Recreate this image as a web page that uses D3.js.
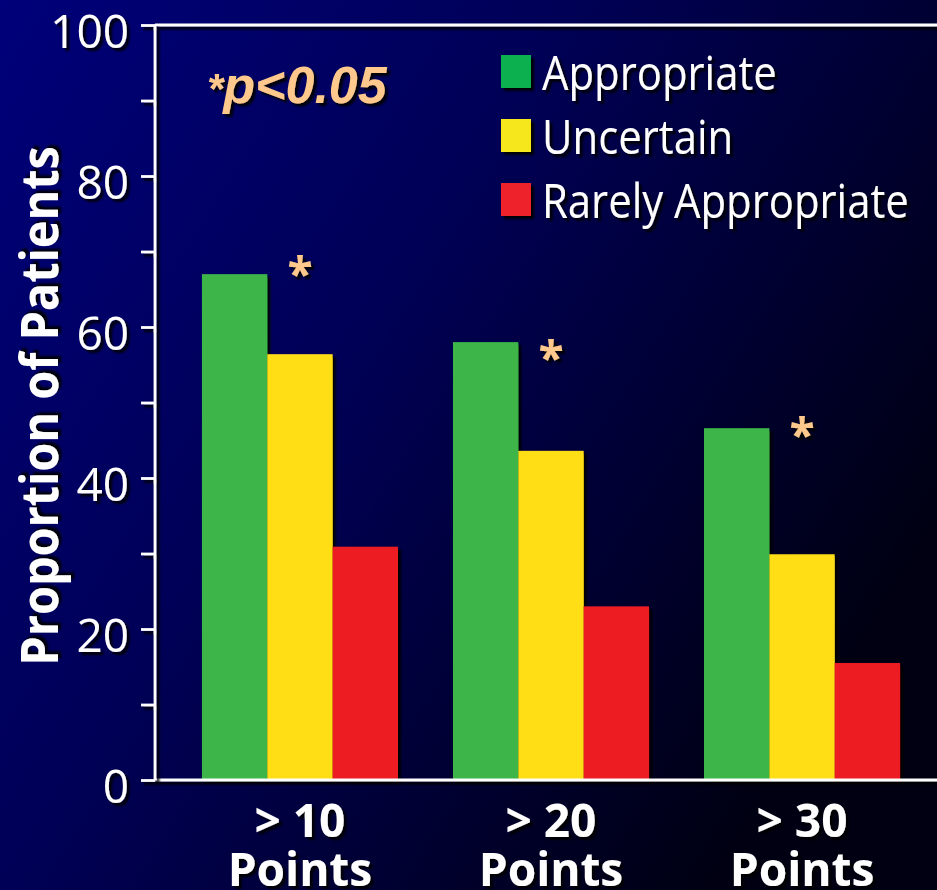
<!DOCTYPE html>
<html>
<head>
<meta charset="utf-8">
<script src="https://cdn.jsdelivr.net/npm/d3@7"></script>
<style>
  html, body { margin: 0; padding: 0; background: #000040; }
  svg { display: block; }
  text { font-family: "Open Sans", "DejaVu Sans", sans-serif; fill: #ffffff; }
</style>
</head>
<body>
<svg id="chart" width="937" height="890"></svg>
<script>
// Threshold groups on the x axis
const groups = ["> 10|Points", "> 20|Points", "> 30|Points"];
// Series names (legend order)
const series = ["Appropriate", "Uncertain", "Rarely Appropriate"];
// Proportion of patients (%) per group, one array per series
const appropriate = [67.0, 58.0, 46.6];
const uncertain = [56.4, 43.6, 29.9];
const rarelyAppropriate = [30.9, 23.0, 15.5];
// Level (%) at which each significance asterisk sits
const sigMarkLevel = [68.3, 57.2, 47.0];
// Axis ticks
const majorTicks = [0, 20, 40, 60, 80, 100];
const minorTicks = [10, 30, 50, 70, 90];
const yTitle = "Proportion of Patients";
const noteStar = "*";
const noteText = "p<0.05";

const barColors = ["#3cb54a", "#ffde17", "#ed1c24"];
const keyColors = ["#0bb04f", "#f6e71a", "#ee2229"];

const W = 937, H = 890;
const svg = d3.select("#chart");
const defs = svg.append("defs");

const bg = defs.append("linearGradient").attr("id", "bg")
  .attr("x1", 0).attr("y1", 0).attr("x2", 1).attr("y2", 0.6);
bg.append("stop").attr("offset", 0).attr("stop-color", "#00007a");
bg.append("stop").attr("offset", 0.45).attr("stop-color", "#000056");
bg.append("stop").attr("offset", 1).attr("stop-color", "#000012");

const sh = defs.append("filter").attr("id", "shadow")
  .attr("x", "-10%").attr("y", "-10%").attr("width", "130%").attr("height", "130%");
sh.append("feDropShadow").attr("dx", 3).attr("dy", 3).attr("stdDeviation", 1)
  .attr("flood-color", "#000000").attr("flood-opacity", 0.9);

// Narrow a text run to a fraction of its natural width (Myriad-like proportions)
function condense(sel, factor) {
  sel.each(function () {
    const w = this.getComputedTextLength();
    d3.select(this).attr("textLength", w * factor).attr("lengthAdjust", "spacingAndGlyphs");
  });
}

svg.append("rect").attr("width", W).attr("height", H).attr("fill", "url(#bg)");

const plot = { left: 155, top: 25, bottom: 780, right: W };

const y = d3.scaleLinear().domain([0, 100]).range([plot.bottom, plot.top]);
const x0 = d3.scaleBand().domain(groups).range([plot.left, 947])
  .paddingInner(0.219).paddingOuter(0.187);
const x1 = d3.scaleBand().domain(series).range([0, x0.bandwidth()]);

const valuesBySeries = [appropriate, uncertain, rarelyAppropriate];
const rows = groups.map((g, gi) => ({
  group: g,
  bars: series.map((s, si) => ({ series: s, value: valuesBySeries[si][gi], color: barColors[si] }))
}));

// Bars
const gBars = svg.append("g");
rows.forEach(r => {
  gBars.selectAll(null).data(r.bars).join("rect")
    .attr("x", d => x0(r.group) + x1(d.series))
    .attr("y", d => y(d.value))
    .attr("width", x1.bandwidth())
    .attr("height", d => y(0) - y(d.value))
    .attr("fill", d => d.color)
    .attr("filter", "url(#shadow)");
});

// Frame: top rule and baseline
const frame = svg.append("g").attr("filter", "url(#shadow)")
  .attr("stroke", "#ffffff").attr("stroke-width", 2.8).attr("fill", "none");
frame.append("line").attr("x1", plot.left).attr("x2", plot.right).attr("y1", y(100)).attr("y2", y(100));
frame.append("line").attr("x1", plot.left).attr("x2", plot.right).attr("y1", y(0)).attr("y2", y(0));

// Left axis
const yAxis = d3.axisLeft(y).tickValues(majorTicks.concat(minorTicks).sort((a, b) => a - b))
  .tickSize(14).tickPadding(12)
  .tickFormat(d => majorTicks.includes(d) ? d : "");
const gy = svg.append("g").attr("transform", `translate(${plot.left},0)`)
  .attr("filter", "url(#shadow)").call(yAxis);
gy.select(".domain").attr("stroke", "#ffffff").attr("stroke-width", 2.8)
  .attr("d", `M0,${y(100)}V${y(0)}`);
gy.selectAll(".tick line").attr("stroke", "#ffffff").attr("stroke-width", 2.8);
gy.selectAll(".tick text").attr("fill", "#ffffff")
  .style("font-family", '"Open Sans", sans-serif').style("font-size", "46px")
  .attr("dy", "0.48em");

// Axis title
const title = svg.append("text")
  .attr("transform", `translate(58,406) rotate(-90)`)
  .attr("text-anchor", "middle")
  .attr("filter", "url(#shadow)")
  .style("font-size", "52px").style("font-weight", 700)
  .text(yTitle);
condense(title, 0.9);

// Category labels (two lines)
const gx = svg.append("g").attr("filter", "url(#shadow)");
groups.forEach(g => {
  const [l1, l2] = g.split("|");
  const cx = x0(g) + x0.bandwidth() / 2;
  const t = gx.append("text").attr("text-anchor", "middle")
    .style("font-size", "46px").style("font-weight", 700);
  t.append("tspan").attr("x", cx).attr("y", 837).text(l1);
  t.append("tspan").attr("x", cx).attr("y", 886).text(l2);
});

// Significance asterisks
svg.append("g").attr("filter", "url(#shadow)")
  .selectAll("text").data(groups).join("text")
  .attr("x", g => x0(g) + x0.bandwidth() / 2)
  .attr("y", (g, i) => y(sigMarkLevel[i]) + 27)
  .attr("text-anchor", "middle")
  .style("font-size", "46px").style("font-weight", 700)
  .style("fill", "#ffc88c")
  .text(noteStar);

// Footnote
const note = svg.append("text").attr("x", 207).attr("y", 103)
  .attr("filter", "url(#shadow)")
  .style("font-family", '"Liberation Sans", Arial, sans-serif')
  .style("font-weight", 700).style("font-style", "italic")
  .style("fill", "#ffc88c");
note.append("tspan").style("font-size", "42px").text(noteStar);
note.append("tspan").style("font-size", "52px").text(noteText);

// Legend
const legend = svg.append("g").attr("transform", "translate(501,55)");
const item = legend.selectAll("g").data(series).join("g")
  .attr("transform", (d, i) => `translate(0,${i * 64})`);
item.append("rect").attr("width", 30).attr("height", 33)
  .attr("fill", (d, i) => keyColors[i]).attr("filter", "url(#shadow)");
const keyText = item.append("text").attr("x", 41).attr("y", 35)
  .attr("filter", "url(#shadow)")
  .style("font-size", "47px")
  .text(d => d);
condense(keyText, 0.89);
</script>
</body>
</html>
